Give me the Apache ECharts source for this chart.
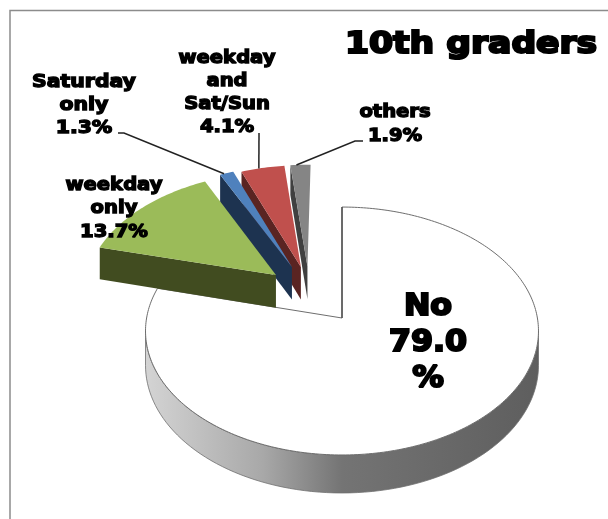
<!DOCTYPE html>
<html><head><meta charset="utf-8">
<style>html,body{margin:0;padding:0;background:#fff}#c{width:608px;height:519px;filter:blur(0.5px)}</style>
<script src="https://cdn.jsdelivr.net/npm/echarts@6/dist/echarts.min.js"></script>
</head><body><div id="c"></div>
<script>
const titleText = '10th graders';
const categories = ['No', 'weekday only', 'Saturday only', 'weekday and Sat/Sun', 'others'];
const values = [79.0, 13.7, 1.3, 4.1, 1.9];
const labelTexts = ['No\n79.0\n%', 'weekday\nonly\n13.7%', 'Saturday\nonly\n1.3%', 'weekday\nand\nSat/Sun\n4.1%', 'others\n1.9%'];

// layout and style, separate from the data
const CX = 342, CY = 318, RX = 195.4, RY = 122.6, K = 0.105, DEPTH = 34;
const explode = [[0, 0], [-0.351, 0.364], [-0.268, 0.435], [-0.22, 0.435], [-0.185, 0.44]];
const topColors = ['#ffffff', '#9bbb59', '#4f81bd', '#c0504d', '#858585'];
const sideColors = [null, '#414c20', '#1d3350', '#5a2422', '#404040'];
const drawOrder = [1, 5, 4, 3, 2];
const labelBoxes = [
  {x: 428, y: 343, size: 31, lh: 36, sx: 1.02, w: 2.2},
  {x: 114, y: 209, size: 17, lh: 23.5, sx: 1.15, w: 1.3},
  {x: 84, y: 106, size: 17, lh: 23, sx: 1.2, w: 1.3},
  {x: 227, y: 93, size: 17, lh: 23, sx: 1.15, w: 1.3},
  {x: 395, y: 124.5, size: 17, lh: 24, sx: 1.15, w: 1.3}
];
const leaders = [null, null, [[118, 133], [124, 133]], [[259, 133], [259, 133]], [[363, 141], [355, 141]]];
const leaderAnchor = [0, 0, 0.3, 0.41, 0.3];

const total = values.reduce((a, b) => a + b, 0);
const starts = [];
values.reduce((acc, v, i) => { starts[i] = acc; return acc + v; }, 0);
const rad = d => d * Math.PI / 180;
function project(X, Z, drop) {
  const s = 1 / (1 + K * Z);
  return [CX + RX * X * s, CY - RY * Z * s + (drop || 0) * s];
}
function rimPoint(i, deg, drop) {
  const e = explode[i];
  return project(Math.sin(rad(deg)) + e[0], Math.cos(rad(deg)) + e[1], drop);
}
function apexPoint(i, drop) { return project(explode[i][0], explode[i][1], drop); }

function renderItem(params, api) {
  const i = params.dataIndex;
  const v = api.value(0);
  const a0 = starts[i] / total * 360, a1 = a0 + v / total * 360;
  const children = [];
  const z = drawOrder[i];
  const line = i === 0 ? {stroke: '#6e6e6e', lineWidth: 1} : {stroke: null, lineWidth: 0};
  const rim = [];
  for (let d = a0; d < a1; d += 1) rim.push(rimPoint(i, d));
  rim.push(rimPoint(i, a1));
  if (i === 0) {
    const up = [], low = [];
    for (let d = 96; d <= 264; d += 2) { up.push(rimPoint(i, d)); low.unshift(rimPoint(i, d, DEPTH)); }
    children.push({type: 'polygon', z2: z, shape: {points: up.concat(low)},
      style: {stroke: '#6e6e6e', lineWidth: 0.8,
        fill: new echarts.graphic.LinearGradient(0, 0, 1, 0, [
          {offset: 0, color: '#d4d4d4'}, {offset: 0.3, color: '#a8a8a8'},
          {offset: 0.5, color: '#747474'}, {offset: 1, color: '#5e5e5e'}])}});
  } else {
    children.push({type: 'polygon', z2: z, shape: {points: [
      rimPoint(i, a0), apexPoint(i), apexPoint(i, DEPTH), rimPoint(i, a0, DEPTH)]},
      style: {fill: sideColors[i]}});
  }
  children.push({type: 'polygon', z2: z + 0.5, shape: {points: [apexPoint(i)].concat(rim)},
    style: Object.assign({fill: topColors[i]}, line)});
  if (i === 0) {
    children.push({type: 'polyline', z2: z + 0.6, shape: {points: [apexPoint(i), rimPoint(i, a0)]},
      style: {stroke: '#4a4a4a', lineWidth: 1.4, fill: null}});
  }
  if (leaders[i]) {
    const anchor = rimPoint(i, a0 + (a1 - a0) * leaderAnchor[i]);
    children.push({type: 'polyline', z2: 20, shape: {points: leaders[i].concat([anchor])},
      style: {stroke: '#222', lineWidth: 1.5, fill: null}});
  }
  const b = labelBoxes[i];
  children.push({type: 'text', z2: 30, x: b.x, y: b.y, scaleX: b.sx, style: {
    text: labelTexts[i], align: 'center', verticalAlign: 'middle',
    fontFamily: 'DejaVu Sans', fontWeight: 'bold', fontSize: b.size, lineHeight: b.lh,
    fill: '#000', stroke: '#000', lineWidth: b.w}});
  return {type: 'group', children};
}

const chart = echarts.init(document.getElementById('c'), null, {renderer: 'canvas'});
chart.setOption({
  animation: false,
  backgroundColor: '#fff',
  graphic: [
    {type: 'polyline', silent: true, shape: {points: [[10, 530], [10, 10.5], [620, 10.5]]},
     style: {stroke: '#8c8c8c', lineWidth: 1.5, fill: null}},
    {type: 'text', silent: true, x: 345, y: 45, scaleX: 1.115, style: {
      text: titleText, align: 'left', verticalAlign: 'middle',
      fontFamily: 'DejaVu Sans', fontWeight: 'bold', fontSize: 31,
      fill: '#000', stroke: '#000', lineWidth: 2.2}}
  ],
  series: [{type: 'custom', coordinateSystem: 'none', renderItem,
    data: categories.map((name, i) => ({name, value: [values[i]]}))}]
});
</script></body></html>
